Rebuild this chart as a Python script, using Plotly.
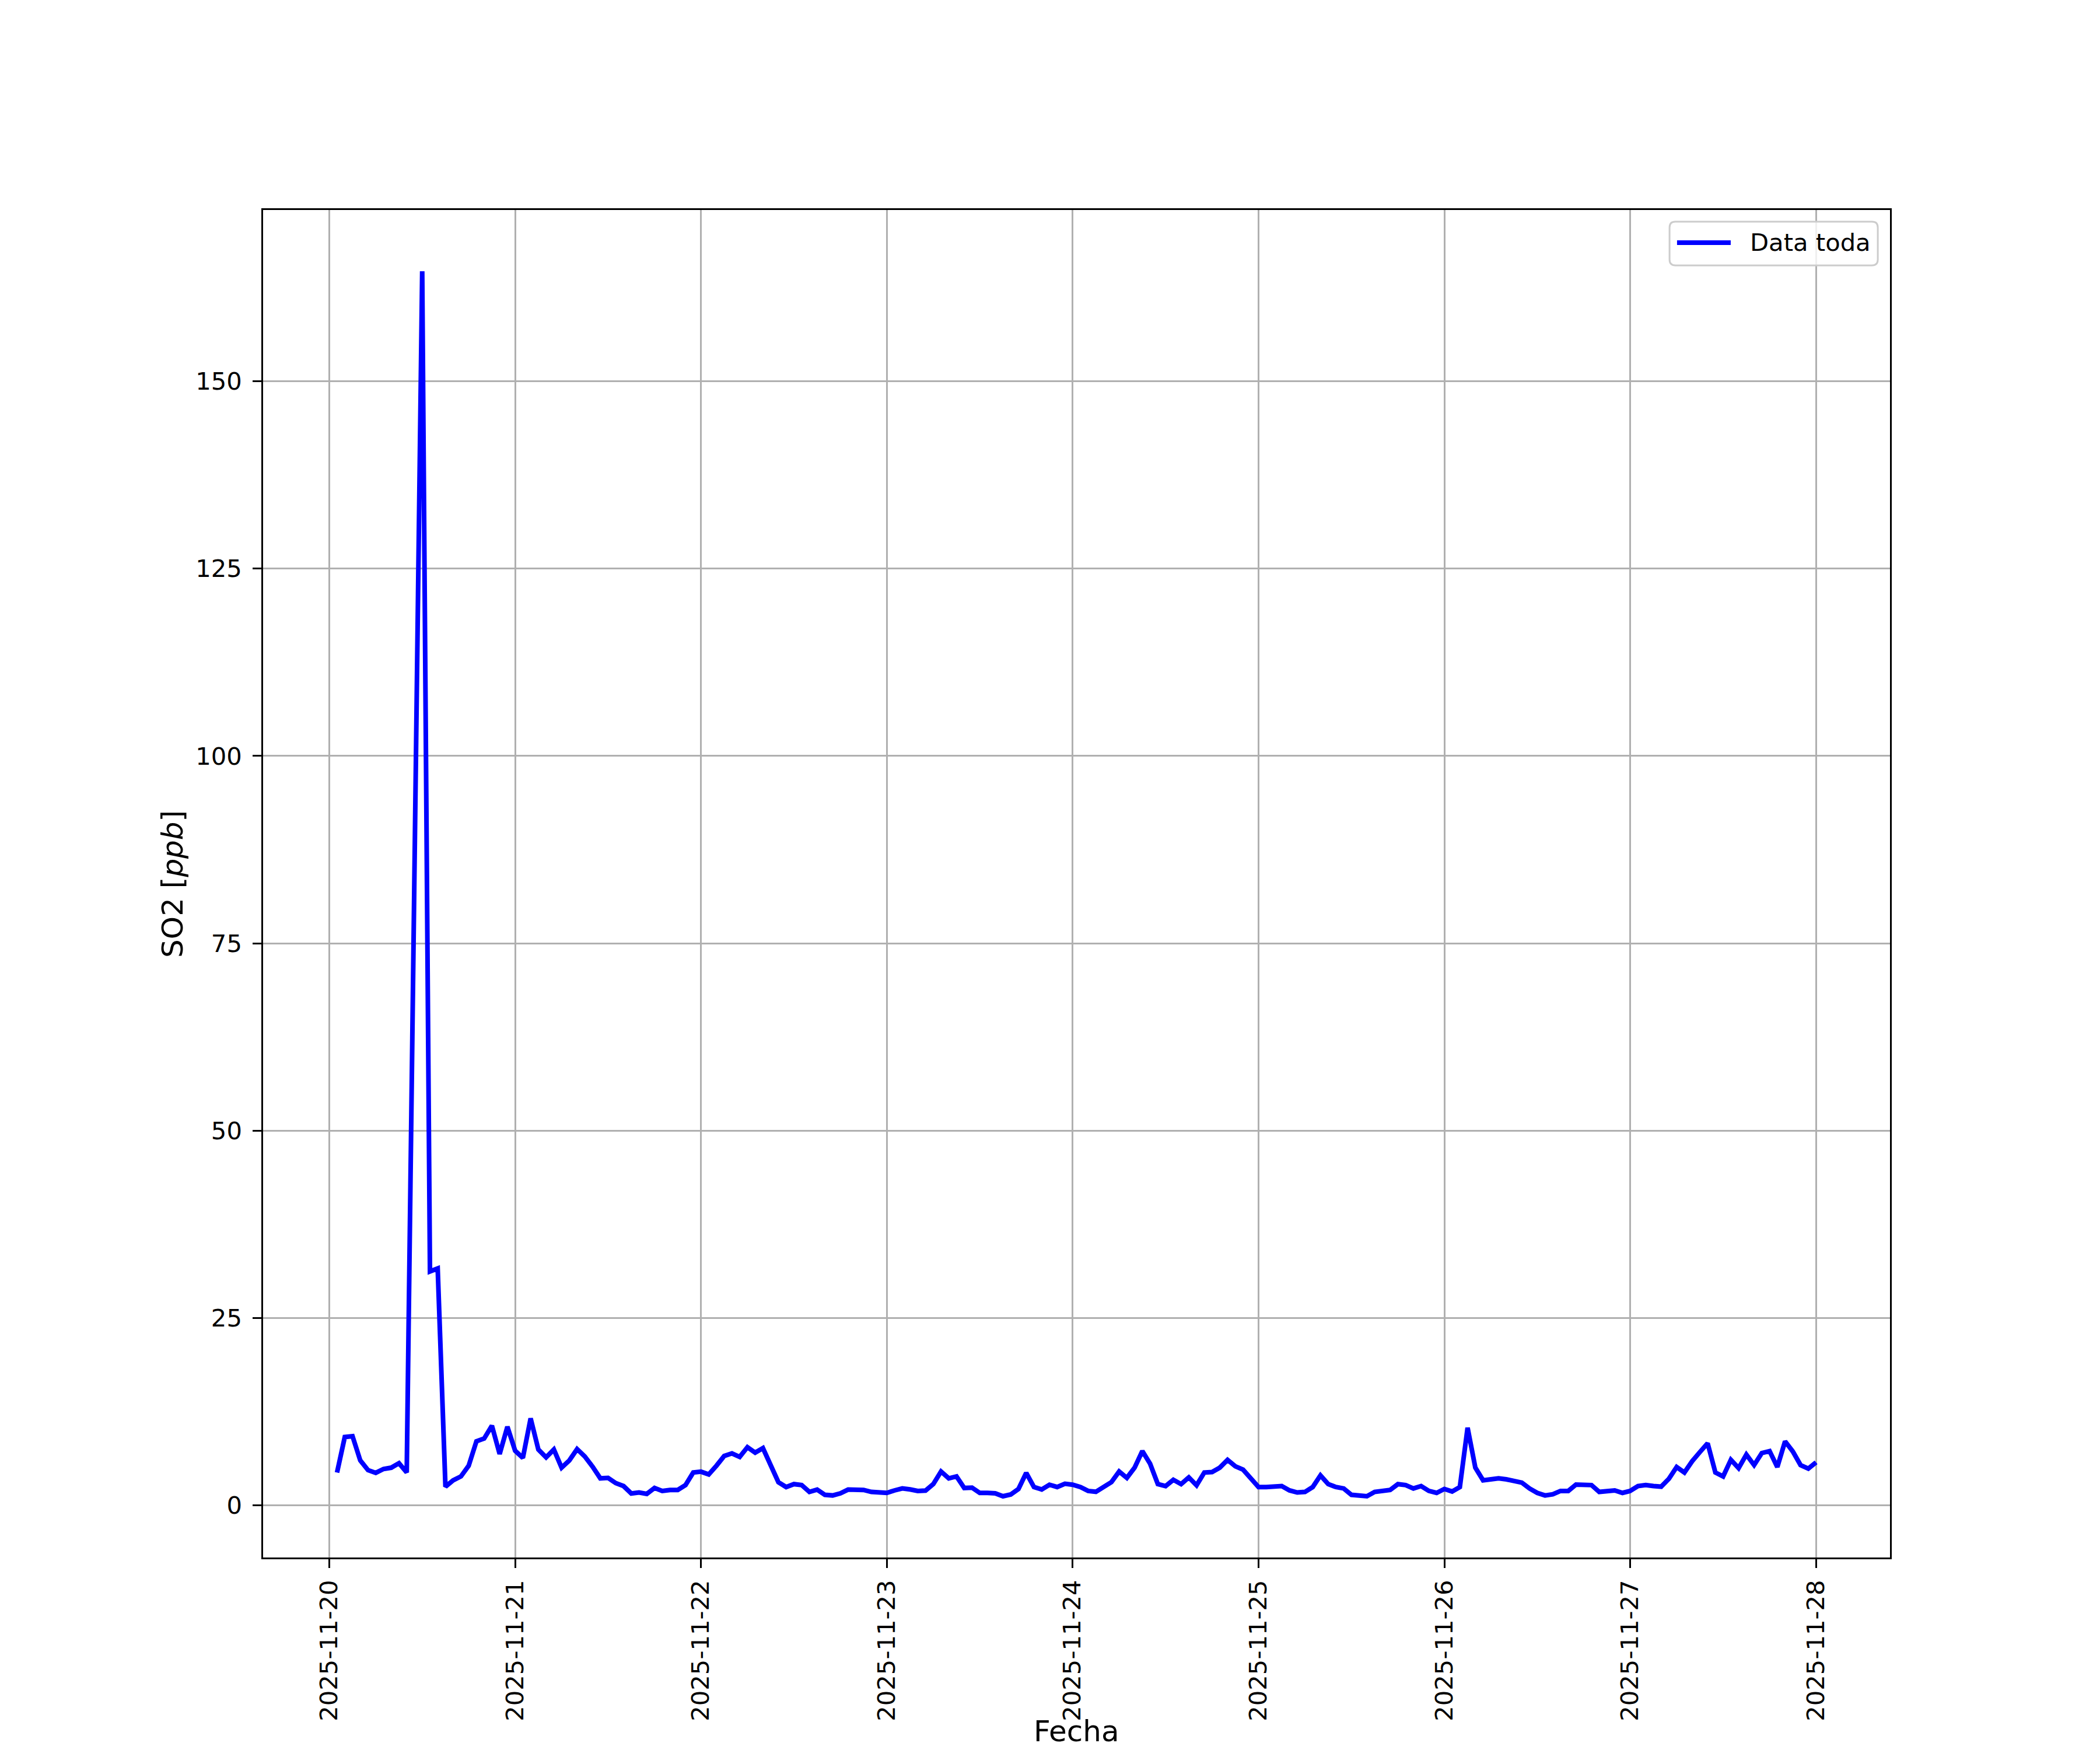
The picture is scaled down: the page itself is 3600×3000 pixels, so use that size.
import pandas as pd
import plotly.graph_objects as go

# ---- data (hourly SO2, ppb) ----
start_time = "2025-11-20 01:00"
n_hours = 192
so2_day1 = [4.36, 9.09, 9.2, 5.97, 4.68, 4.31, 4.83, 5.0, 5.6, 4.36, None, 164.7,
            31.2, 31.6, 2.47, 3.32, 3.84, 5.27, 8.52, 8.9, 10.6, 6.83, 10.47, 7.27]
so2_day2 = [6.31, 11.58, 7.43, 6.39, 7.43, 5.01, 5.97, 7.48, 6.49, 5.14, 3.58, 3.64,
            2.94, 2.55, 1.56, 1.69, 1.51, 2.29, 1.9, 2.03, 2.03, 2.68, 4.36, 4.47]
so2_day3 = [4.1, 5.27, 6.57, 6.91, 6.44, 7.74, 7.01, 7.61, 5.4, 3.06, 2.42, 2.81,
            2.68, 1.77, 2.08, 1.38, 1.3, 1.58, 2.08, 2.03, 2.03, 1.77, 1.71, 1.64]
so2_day4 = [1.97, 2.23, 2.1, 1.9, 1.95, 2.81, 4.49, 3.58, 3.84, 2.29, 2.34, 1.64,
            1.64, 1.58, 1.19, 1.43, 2.16, 4.31, 2.42, 2.1, 2.73, 2.42, 2.86, 2.73]
so2_day5 = [2.42, 1.9, 1.79, 2.42, 3.07, 4.49, 3.64, 5.01, 7.22, 5.53, 2.81, 2.55,
            3.38, 2.81, 3.71, 2.65, 4.36, 4.42, 5.01, 6.05, 5.19, 4.75, 3.5, 2.42]
so2_day6 = [2.42, 2.55, 2.55, 1.97, 1.69, 1.77, 2.42, 3.97, 2.81, 2.42, 2.23, 1.38,
            1.25, 1.19, 1.77, 1.9, 2.03, 2.81, 2.68, 2.23, 2.55, 1.9, 1.64, 2.16]
so2_day7 = [1.82, 2.42, 10.34, 5.01, 3.32, 3.45, 3.58, 3.45, 3.27, 3.01, 2.23, 1.64,
            1.3, 1.45, 1.9, 1.9, 2.75, 2.68, 2.68, 1.77, 1.84, 1.97, 1.64, 1.9]
so2_day8 = [2.55, 2.68, 2.55, 2.47, 3.53, 5.09, 4.36, 5.87, 7.09, 8.26, 4.36, 3.84,
            6.05, 4.94, 6.75, 5.35, 6.96, 7.22, 5.09, 8.52, 7.17, 5.35, 4.88, 5.71]
y_ticks = [0, 25, 50, 75, 100, 125, 150]
series_name = "Data toda"
x_title = "Fecha"
y_title = "SO2 [<i>ppb</i>]"

so2 = so2_day1 + so2_day2 + so2_day3 + so2_day4 + so2_day5 + so2_day6 + so2_day7 + so2_day8
times = pd.date_range(start_time, periods=n_hours, freq="h")

# matplotlib-like 5% margins
t0, t1 = times[0], times[-1]
span = t1 - t0
x_range = [t0 - span * 0.05, t1 + span * 0.05]
vals = [v for v in so2 if v is not None]
vmin, vmax = min(vals), max(vals)
vspan = vmax - vmin
y_range = [vmin - 0.05 * vspan, vmax + 0.05 * vspan]

FONT = "DejaVu Sans"
TICK = 41.7
LABEL = 50
LINE_COLOR = "#0000ff"

fig = go.Figure()
fig.add_trace(go.Scatter(x=times, y=so2, mode="lines", name=series_name,
                         line=dict(color=LINE_COLOR, width=8), connectgaps=True,
                         showlegend=False))

axis_common = dict(showline=True, mirror=True, linecolor="black", linewidth=3.3,
                   showgrid=True, gridcolor="#b0b0b0", gridwidth=3.3,
                   ticks="outside", ticklen=14.6, tickwidth=3.3, tickcolor="black",
                   zeroline=False, tickfont=dict(family=FONT, size=TICK, color="black"))

# legend box (paper coordinates, matplotlib-style rounded frame)
lx0, lx1, ly0, ly1 = 0.8645, 0.9925, 0.9589, 0.9913
rx, ry = 0.0036, 0.0043
legend_path = (f"M {lx0+rx},{ly0} L {lx1-rx},{ly0} Q {lx1},{ly0} {lx1},{ly0+ry} "
               f"L {lx1},{ly1-ry} Q {lx1},{ly1} {lx1-rx},{ly1} "
               f"L {lx0+rx},{ly1} Q {lx0},{ly1} {lx0},{ly1-ry} "
               f"L {lx0},{ly0+ry} Q {lx0},{ly0} {lx0+rx},{ly0} Z")

fig.update_layout(
    width=3592, height=2992, autosize=False,
    margin=dict(l=443, r=360, t=352, b=330, pad=0),
    paper_bgcolor="white", plot_bgcolor="white",
    font=dict(family=FONT, color="black"),
    showlegend=False,
    xaxis=dict(range=x_range, type="date", tick0="2025-11-20", dtick=86400000,
               tickformat="%Y-%m-%d", tickangle=-90, ticklabelstandoff=4, **axis_common),
    yaxis=dict(range=y_range, tickvals=y_ticks, ticklabelstandoff=10, **axis_common),
    shapes=[
        dict(type="path", xref="paper", yref="paper", path=legend_path,
             fillcolor="rgba(255,255,255,0.8)", line=dict(color="#cccccc", width=3),
             layer="above"),
        dict(type="line", xref="paper", yref="paper", x0=0.8691, x1=0.9021,
             y0=0.9758, y1=0.9758, line=dict(color=LINE_COLOR, width=8), layer="above"),
    ],
    annotations=[
        dict(text=series_name, xref="paper", yref="paper", x=0.9132, y=0.9758,
             xanchor="left", yanchor="middle", showarrow=False,
             font=dict(family=FONT, size=TICK, color="black")),
        dict(text=x_title, xref="paper", yref="paper", x=0.5, y=-0.129,
             xanchor="center", yanchor="middle", showarrow=False,
             font=dict(family=FONT, size=LABEL, color="black")),
        dict(text=y_title, xref="paper", yref="paper", x=-0.0556, y=0.5,
             xanchor="center", yanchor="middle", textangle=-90, showarrow=False,
             font=dict(family=FONT, size=LABEL, color="black")),
    ],
)

fig.write_html("out.html")
